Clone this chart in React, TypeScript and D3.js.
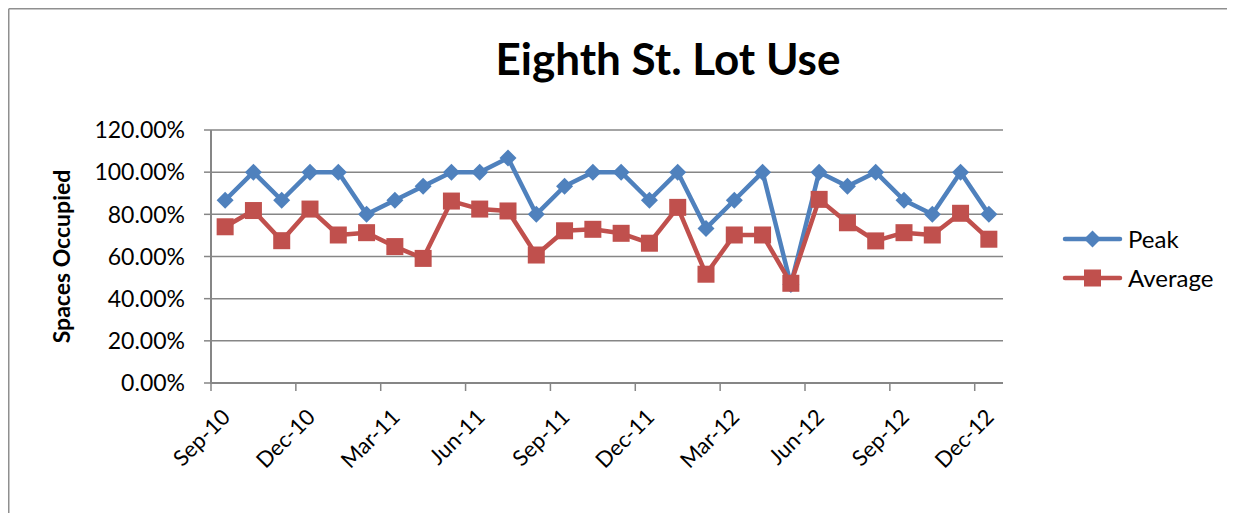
import React from "react";
import * as d3 from "d3";

const months = [
  "Sep-10", "Oct-10", "Nov-10", "Dec-10", "Jan-11", "Feb-11", "Mar-11", "Apr-11",
  "May-11", "Jun-11", "Jul-11", "Aug-11", "Sep-11", "Oct-11", "Nov-11", "Dec-11",
  "Jan-12", "Feb-12", "Mar-12", "Apr-12", "May-12", "Jun-12", "Jul-12", "Aug-12",
  "Sep-12", "Oct-12", "Nov-12", "Dec-12",
];
const tickLabels = ["Sep-10", "Dec-10", "Mar-11", "Jun-11", "Sep-11", "Dec-11", "Mar-12", "Jun-12", "Sep-12", "Dec-12"];
const peak = [
  0.8667, 1.0, 0.8667, 1.0, 1.0, 0.8, 0.8667, 0.9333, 1.0, 1.0, 1.0667, 0.8, 0.9333, 1.0,
  1.0, 0.8667, 1.0, 0.7333, 0.8667, 1.0, 0.4667, 1.0, 0.9333, 1.0, 0.8667, 0.8, 1.0, 0.8,
];
const average = [
  0.741, 0.818, 0.675, 0.825, 0.702, 0.713, 0.647, 0.591, 0.863, 0.825, 0.816, 0.607, 0.722, 0.729,
  0.71, 0.663, 0.833, 0.516, 0.702, 0.702, 0.473, 0.871, 0.76, 0.674, 0.713, 0.702, 0.805, 0.682,
];
const yTicks = [0, 0.2, 0.4, 0.6, 0.8, 1.0, 1.2];
const seriesNames = ["Peak", "Average"];

const W = 1227;
const H = 505;
const BLUE = "#4F81BD";
const RED = "#C0504D";
const GRID = "#868686";
const FONT = "Lato, 'Open Sans', sans-serif";

export default function App() {
  const x = d3.scaleBand<string>().domain(months).range([203, 995]).padding(0);
  const y = d3.scaleLinear().domain([0, 1.2]).range([375, 122]);
  const cx = (m: string) => (x(m) as number) + x.bandwidth() / 2;
  const line = d3
    .line<number>()
    .x((_, i) => cx(months[i]))
    .y((d) => y(d));
  const fmt = d3.format(".2%");
  const diamond = (px: number, py: number, r: number) =>
    `M${px},${py - r}L${px + r},${py}L${px},${py + r}L${px - r},${py}Z`;
  const sq = 17;
  const axisY = y(0);
  const x0 = x.range()[0];
  const x1 = x.range()[1];

  return (
    <svg width={W} height={H} style={{ display: "block" }} fontFamily={FONT}>
      <rect x={0} y={0} width={W} height={H} fill="#fff" />
      <line x1={0.75} y1={0.75} x2={W} y2={0.75} stroke="#8f8f8f" strokeWidth={1.5} />
      <line x1={0.75} y1={0.75} x2={0.75} y2={H} stroke="#8f8f8f" strokeWidth={1.5} />

      <text x={660} y={67} textAnchor="middle" fontSize={44} fontWeight="bold" fill="#000">
        Eighth St. Lot Use
      </text>

      {/* gridlines */}
      {yTicks.map((t) => (
        <g key={t}>
          {t > 0 && (
            <line x1={x0} x2={x1} y1={y(t)} y2={y(t)} stroke={GRID} strokeWidth={1.5} />
          )}
          <line x1={x0 - 7} x2={x0} y1={y(t)} y2={y(t)} stroke={GRID} strokeWidth={1.5} />
          <text x={177} y={y(t)} dy="0.36em" textAnchor="end" fontSize={23} fill="#000">
            {fmt(t)}
          </text>
        </g>
      ))}
      {/* axes */}
      <line x1={x0} x2={x0} y1={y(1.2)} y2={axisY + 1} stroke={GRID} strokeWidth={2} />
      <line x1={x0} x2={x1} y1={axisY} y2={axisY} stroke={GRID} strokeWidth={2} />
      {tickLabels.map((m) => {
        const tx = x(m) as number;
        const c = cx(m);
        return (
          <g key={m}>
            <line x1={tx} x2={tx} y1={axisY} y2={axisY + 8} stroke={GRID} strokeWidth={1.5} />
            <text
              transform={`translate(${c + 1},${axisY + 30}) rotate(-45)`}
              textAnchor="end"
              dy="0.35em"
              fontSize={22}
              fill="#000"
            >
              {m}
            </text>
          </g>
        );
      })}

      <text
        transform={`translate(54,${(y(0) + y(1.2)) / 2}) rotate(-90)`}
        textAnchor="middle"
        dy="0.35em"
        fontSize={23}
        fontWeight="bold"
        fill="#000"
      >
        Spaces  Occupied
      </text>

      {/* Peak */}
      <path d={line(peak) as string} fill="none" stroke={BLUE} strokeWidth={4.5} strokeLinejoin="round" />
      {peak.map((v, i) => (
        <path key={"p" + i} d={diamond(cx(months[i]), y(v), 8.5)} fill={BLUE} />
      ))}
      {/* Average */}
      <path d={line(average) as string} fill="none" stroke={RED} strokeWidth={4.5} strokeLinejoin="round" />
      {average.map((v, i) => (
        <rect key={"a" + i} x={cx(months[i]) - sq / 2} y={y(v) - sq / 2} width={sq} height={sq} fill={RED} />
      ))}

      {/* legend */}
      {seriesNames.map((s, i) => {
        const ly = 231 + i * 39;
        const col = i === 0 ? BLUE : RED;
        return (
          <g key={s}>
            <line x1={1057} x2={1112} y1={ly} y2={ly} stroke={col} strokeWidth={4.5} strokeLinecap="round" />
            {i === 0 ? (
              <path d={diamond(1084.5, ly, 8.5)} fill={col} />
            ) : (
              <rect x={1084.5 - sq / 2} y={ly - sq / 2} width={sq} height={sq} fill={col} />
            )}
            <text x={1120} y={ly} dy="0.36em" fontSize={24} fill="#000">
              {s}
            </text>
          </g>
        );
      })}
    </svg>
  );
}
